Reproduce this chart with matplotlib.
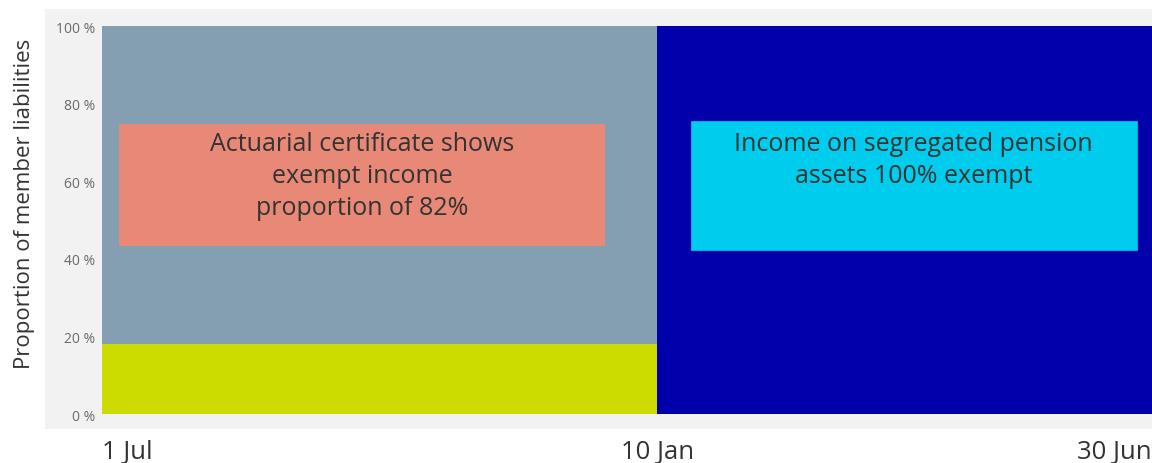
import pandas as pd
import matplotlib.pyplot as plt
from matplotlib.patches import Rectangle

plt.rcParams['font.family'] = ['Open Sans', 'DejaVu Sans']

# period boundaries
dates = pd.to_datetime(["2023-07-01", "2024-01-10", "2024-06-30"])
date_labels = ["1 Jul", "10 Jan", "30 Jun"]

# first period: exempt share from actuarial certificate
non_exempt_1 = 18
exempt_1 = 82
# second period: segregated assets
exempt_2 = 100

yticks = [0, 20, 40, 60, 80, 100]

fig = plt.figure(figsize=(11.52, 4.64), dpi=100)
# light grey panel behind the plot
fig.patches.append(Rectangle((0.039, 0.073), 0.961, 0.905, transform=fig.transFigure,
                             facecolor="#f2f2f2", edgecolor="none", zorder=-1))
ax = fig.add_axes([0.0885, 0.1056, 0.9115, 0.8362])
ax.set_facecolor("none")

w1 = dates[1] - dates[0]
w2 = dates[2] - dates[1]
ax.bar(dates[0], non_exempt_1, width=w1, align="edge", color="#ccdb00", linewidth=0)
ax.bar(dates[0], exempt_1, width=w1, bottom=non_exempt_1, align="edge", color="#849fb2", linewidth=0)
ax.bar(dates[1], exempt_2, width=w2, align="edge", color="#0000aa", linewidth=0)

ax.set_xlim(dates[0], dates[2])
ax.set_ylim(0, 100)
ax.set_xticks(dates)
ax.set_xticklabels(date_labels, fontsize=18.5, color="#333333")
ax.get_xticklabels()[-1].set_ha("right")
ax.get_xticklabels()[0].set_ha("left")
ax.set_yticks(yticks)
ax.set_yticklabels([f"{v} %" for v in yticks], fontsize=10, color="#6a6a6a")
ax.tick_params(length=0)
ax.tick_params(axis="x", pad=18)
ax.tick_params(axis="y", pad=5)
for s in ax.spines.values():
    s.set_visible(False)
ax.set_ylabel("Proportion of member liabilities", fontsize=16, color="#333333")
ax.yaxis.set_label_coords(-0.064, 0.544)

# annotation boxes
ax.add_patch(Rectangle((0.016, 43.3), 0.463, 31.4, transform=ax.get_yaxis_transform(),
                       facecolor="#e88877", edgecolor="none"))
ax.text(0.248, 73, "Actuarial certificate shows\nexempt income\nproportion of 82%",
        transform=ax.get_yaxis_transform(), ha="center", va="top",
        fontsize=18, color="#333333", linespacing=1.37)

ax.add_patch(Rectangle((0.561, 42.3), 0.425, 33.2, transform=ax.get_yaxis_transform(),
                       facecolor="#00ccee", edgecolor="#00aadd", linewidth=0.8))
ax.text(0.773, 73, "Income on segregated pension\nassets 100% exempt",
        transform=ax.get_yaxis_transform(), ha="center", va="top",
        fontsize=18, color="#333333", linespacing=1.37)

fig.savefig("out.png", dpi=100)
